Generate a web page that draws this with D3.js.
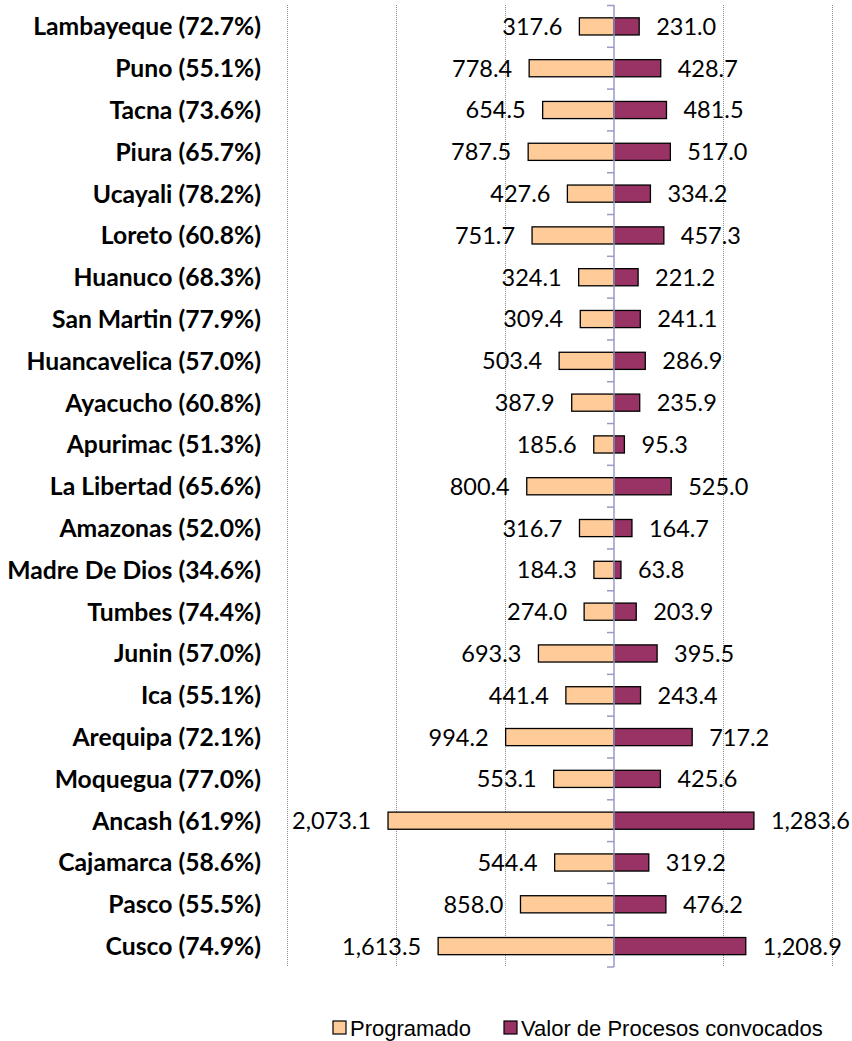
<!DOCTYPE html>
<html>
<head>
<meta charset="utf-8">
<script src="https://cdn.jsdelivr.net/npm/d3@7"></script>
<style>
  body { margin: 0; background: #fff; }
  svg { display: block; }
</style>
</head>
<body>
<svg id="chart"></svg>
<script>
const width = 852;
const height = 1041;

const regions = ['Lambayeque', 'Puno', 'Tacna', 'Piura', 'Ucayali', 'Loreto', 'Huanuco', 'San Martin',
  'Huancavelica', 'Ayacucho', 'Apurimac', 'La Libertad', 'Amazonas', 'Madre De Dios', 'Tumbes',
  'Junin', 'Ica', 'Arequipa', 'Moquegua', 'Ancash', 'Cajamarca', 'Pasco', 'Cusco'];
const percents = [72.7, 55.1, 73.6, 65.7, 78.2, 60.8, 68.3, 77.9, 57.0, 60.8, 51.3, 65.6, 52.0,
  34.6, 74.4, 57.0, 55.1, 72.1, 77.0, 61.9, 58.6, 55.5, 74.9];
const programado = [317.6, 778.4, 654.5, 787.5, 427.6, 751.7, 324.1, 309.4, 503.4, 387.9, 185.6,
  800.4, 316.7, 184.3, 274.0, 693.3, 441.4, 994.2, 553.1, 2073.1, 544.4, 858.0, 1613.5];
const convocados = [231.0, 428.7, 481.5, 517.0, 334.2, 457.3, 221.2, 241.1, 286.9, 235.9, 95.3,
  525.0, 164.7, 63.8, 203.9, 395.5, 243.4, 717.2, 425.6, 1283.6, 319.2, 476.2, 1208.9];
const gridValues = [-3000, -2000, -1000, 1000, 2000];
const seriesNames = ['Programado', 'Valor de Procesos convocados'];

const colorProg = '#ffcc99';
const colorConv = '#993366';
const axisColor = '#9a9ac8';
const labelFont = 'Lato, "Open Sans", sans-serif';

const svg = d3.select('#chart')
  .attr('width', width)
  .attr('height', height);

const x = d3.scaleLinear().domain([-3000, 2000]).range([287, 832]);
const y = d3.scaleBand().domain(regions).range([5.5, 967]).padding(0);
const barH = y.bandwidth() * 0.41;
const fmt = d3.format(',.1f');

// gridlines
svg.append('g').selectAll('line').data(gridValues).enter().append('line')
  .attr('x1', d => Math.round(x(d)) + 0.5)
  .attr('x2', d => Math.round(x(d)) + 0.5)
  .attr('y1', 5)
  .attr('y2', 967)
  .attr('stroke', '#8c8c8c')
  .attr('stroke-width', 1)
  .attr('stroke-dasharray', '1,1');

const rows = regions.map((r, i) => ({ region: r, pct: percents[i], prog: programado[i], conv: convocados[i] }));

// Programado bars (to the left)
svg.append('g').selectAll('rect').data(rows).enter().append('rect')
  .attr('x', d => x(-d.prog))
  .attr('y', d => y(d.region) + (y.bandwidth() - barH) / 2)
  .attr('width', d => x(0) - x(-d.prog))
  .attr('height', barH)
  .attr('fill', colorProg)
  .attr('stroke', '#000')
  .attr('stroke-width', 1.3);

// Valor de procesos convocados (to the right)
svg.append('g').selectAll('rect').data(rows).enter().append('rect')
  .attr('x', x(0))
  .attr('y', d => y(d.region) + (y.bandwidth() - barH) / 2)
  .attr('width', d => x(d.conv) - x(0))
  .attr('height', barH)
  .attr('fill', colorConv)
  .attr('stroke', '#000')
  .attr('stroke-width', 1.3);

// center axis, ticks at the band edges
const axisG = svg.append('g').attr('transform', `translate(${x(0)},0)`);
axisG.append('line')
  .attr('y1', 5).attr('y2', 967)
  .attr('stroke', axisColor).attr('stroke-width', 1.5);
const edges = regions.map(r => y(r)).concat([y.range()[1]]);
axisG.selectAll('.tick-edge').data(edges).enter().append('line')
  .attr('x1', -7).attr('x2', 0)
  .attr('y1', d => d).attr('y2', d => d)
  .attr('stroke', axisColor).attr('stroke-width', 1.5);

// value labels
svg.append('g').selectAll('text').data(rows).enter().append('text')
  .attr('x', d => x(-d.prog) - 17)
  .attr('y', d => y(d.region) + y.bandwidth() / 2)
  .attr('dy', '0.36em')
  .attr('text-anchor', 'end')
  .style('font-family', labelFont)
  .style('font-size', '23.5px')
  .text(d => fmt(d.prog));

svg.append('g').selectAll('text').data(rows).enter().append('text')
  .attr('x', d => x(d.conv) + 17)
  .attr('y', d => y(d.region) + y.bandwidth() / 2)
  .attr('dy', '0.36em')
  .style('font-family', labelFont)
  .style('font-size', '23.5px')
  .text(d => fmt(d.conv));

// category labels
svg.append('g').selectAll('text').data(rows).enter().append('text')
  .attr('x', 261)
  .attr('y', d => y(d.region) + y.bandwidth() / 2)
  .attr('dy', '0.36em')
  .attr('text-anchor', 'end')
  .style('font-family', labelFont)
  .style('font-weight', 'bold')
  .style('font-size', '24.7px')
  .text(d => `${d.region} (${d.pct.toFixed(1)}%)`);

// legend
const legendX = [333, 504];
const legend = svg.append('g').selectAll('g').data(seriesNames).enter().append('g')
  .attr('transform', (d, i) => `translate(${legendX[i]},1028)`);
legend.append('rect')
  .attr('x', 0).attr('y', -7)
  .attr('width', 13).attr('height', 13)
  .attr('fill', (d, i) => i === 0 ? colorProg : colorConv)
  .attr('stroke', '#000').attr('stroke-width', 1.2);
legend.append('text')
  .attr('x', 17)
  .attr('dy', '0.35em')
  .style('font-family', '"Liberation Sans", Arial, sans-serif')
  .style('font-size', '22px')
  .text(d => d);
</script>
</body>
</html>
